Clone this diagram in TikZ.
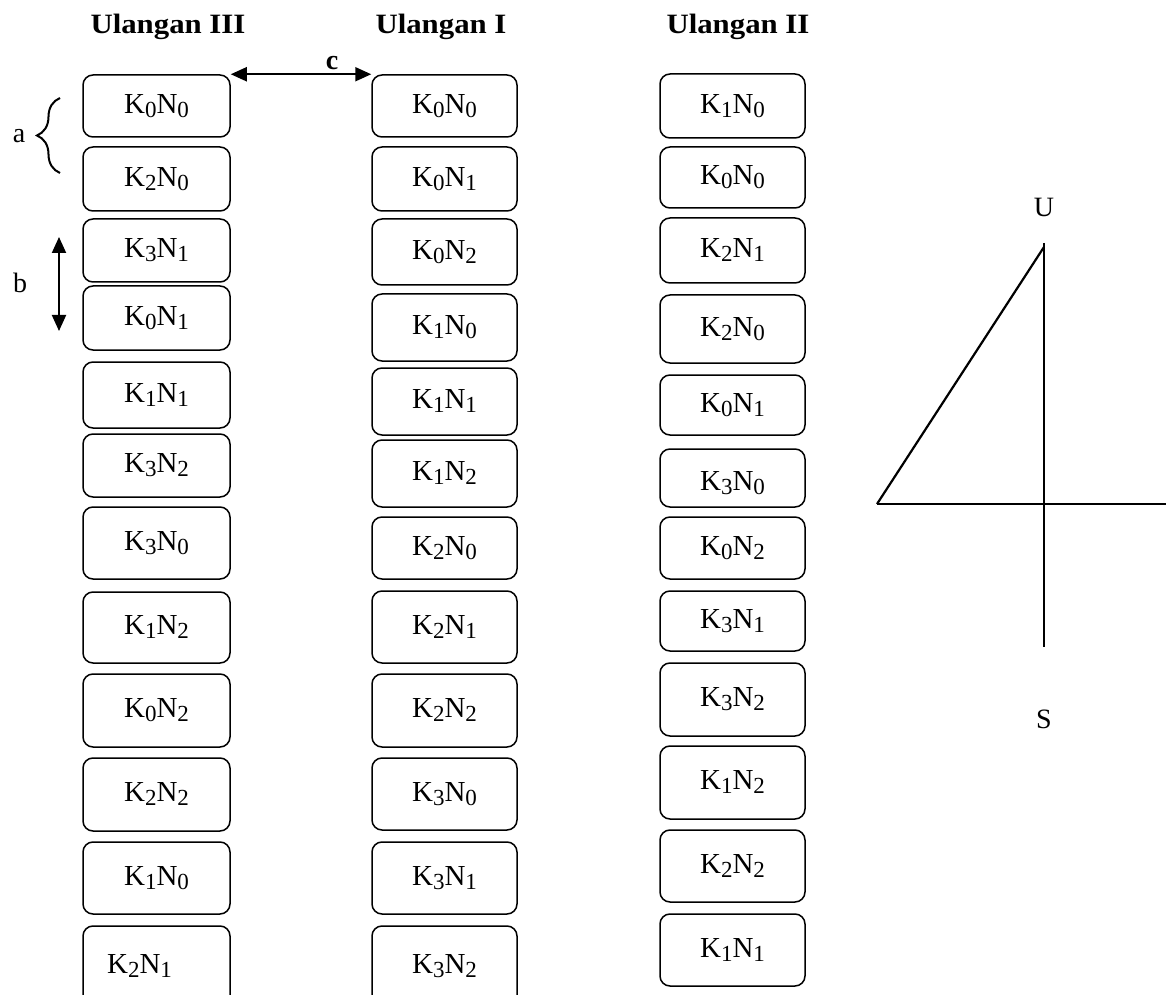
\documentclass[tikz,border=0pt]{standalone}
\usepackage{fontspec}
\setmainfont{Liberation Serif}
\usetikzlibrary{arrows.meta,decorations.pathreplacing}
\newcommand\hs[1]{\scalebox{1.1}[1]{#1}}
\newcommand\sbs[1]{\raisebox{-4pt}{\fontsize{23}{23}\selectfont #1}}
\tikzset{
 kbox/.style={draw, line width=1.5pt, rounded corners=10pt, inner sep=0pt, font=\fontsize{29}{31}\selectfont},
 hdr/.style={font=\fontsize{28}{30}\selectfont\bfseries, inner sep=0pt, anchor=base},
 lbl/.style={font=\fontsize{28}{30}\selectfont, inner sep=0pt},
 dbl/.style={{Triangle[length=16pt,width=14pt]}-{Triangle[length=16pt,width=14pt]}, line width=2pt},
 cline/.style={line width=2.2pt},
}
\begin{document}
\begin{tikzpicture}[x=1pt,y=-1pt]
\useasboundingbox (0,0) rectangle (1171,995);
% headers
\node[hdr] (h3) at (168,34) {\hs{Ulangan III}};
\node[hdr] (h1) at (441,34) {\hs{Ulangan I}};
\node[hdr] (h2) at (738,34) {\hs{Ulangan II}};
% column Ulangan III
\foreach \t/\b/\lab [count=\i] in {
 75/137/{K\sbs{0}N\sbs{0}}, 147/211/{K\sbs{2}N\sbs{0}}, 219/282/{K\sbs{3}N\sbs{1}},
 286/350/{K\sbs{0}N\sbs{1}}, 362/428/{K\sbs{1}N\sbs{1}}, 434/497/{K\sbs{3}N\sbs{2}},
 507/579/{K\sbs{3}N\sbs{0}}, 592/663/{K\sbs{1}N\sbs{2}}, 674/747/{K\sbs{0}N\sbs{2}},
 758/831/{K\sbs{2}N\sbs{2}}, 842/914/{K\sbs{1}N\sbs{0}}, 926/1006/{\hspace*{-34pt}K\sbs{2}N\sbs{1}}}{
 \pgfmathsetmacro\hh{\b-\t}
 \pgfmathsetmacro\cy{(\t+\b)/2}
 \node[kbox, minimum width=147pt, minimum height=\hh pt] (t\i) at (156.5,\cy) {\lab};
}
% column Ulangan I
\foreach \t/\b/\lab [count=\i] in {
 75/137/{K\sbs{0}N\sbs{0}}, 147/211/{K\sbs{0}N\sbs{1}}, 219/285/{K\sbs{0}N\sbs{2}},
 294/361/{K\sbs{1}N\sbs{0}}, 368/435/{K\sbs{1}N\sbs{1}}, 440/507/{K\sbs{1}N\sbs{2}},
 517/579/{K\sbs{2}N\sbs{0}}, 591/663/{K\sbs{2}N\sbs{1}}, 674/747/{K\sbs{2}N\sbs{2}},
 758/830/{K\sbs{3}N\sbs{0}}, 842/914/{K\sbs{3}N\sbs{1}}, 926/1006/{K\sbs{3}N\sbs{2}}}{
 \pgfmathsetmacro\hh{\b-\t}
 \pgfmathsetmacro\cy{(\t+\b)/2}
 \node[kbox, minimum width=145pt, minimum height=\hh pt] (u\i) at (444.5,\cy) {\lab};
}
% column Ulangan II
\foreach \t/\b/\lab [count=\i] in {
 74/138/{K\sbs{1}N\sbs{0}}, 147/208/{K\sbs{0}N\sbs{0}}, 218/283/{K\sbs{2}N\sbs{1}},
 295/363/{K\sbs{2}N\sbs{0}}, 375/435/{K\sbs{0}N\sbs{1}}, 449/507/{},
 517/579/{K\sbs{0}N\sbs{2}}, 591/651/{K\sbs{3}N\sbs{1}}, 663/736/{K\sbs{3}N\sbs{2}},
 746/819/{K\sbs{1}N\sbs{2}}, 830/902/{K\sbs{2}N\sbs{2}}, 914/986/{K\sbs{1}N\sbs{1}}}{
 \pgfmathsetmacro\hh{\b-\t}
 \pgfmathsetmacro\cy{(\t+\b)/2}
 \node[kbox, minimum width=145pt, minimum height=\hh pt] (v\i) at (732.5,\cy) {\lab};
}
\begin{scope}
 \clip (660,449) rectangle (805,494);
 \node[lbl, font=\fontsize{29}{31}\selectfont, anchor=base] (v6t) at (732.5,490) {K\sbs{3}N\sbs{0}};
\end{scope}
% annotations
\node[lbl] (la) at (19,136) {a};
\coordinate (ba) at (60,173);
\coordinate (bb) at (60,98);
\draw[line width=2pt, decorate, decoration={brace, amplitude=23pt}] (ba) -- (bb);
\node[lbl] (lb) at (20,283) {b};
\coordinate (b1) at (59,237);
\coordinate (b2) at (59,331);
\draw[dbl] (b1) -- (b2);
\node[lbl, font=\fontsize{28}{30}\selectfont\bfseries] (lc) at (332,63) {c};
\draw[dbl] (t1.north east) -- (u1.north west);
% compass
\coordinate (nTop) at (1044,243);
\coordinate (nBot) at (1044,647);
\coordinate (eL) at (877,504);
\coordinate (eR) at (1166,504);
\coordinate (dg) at (1044,247);
\draw[cline] (nTop) -- (nBot);
\draw[cline] (eL) -- (eR);
\draw[cline] (eL) -- (dg);
\node[lbl] (U) at (1044,207) {U};
\node[lbl] (S) at (1044,719) {S};
\end{tikzpicture}
\end{document}
